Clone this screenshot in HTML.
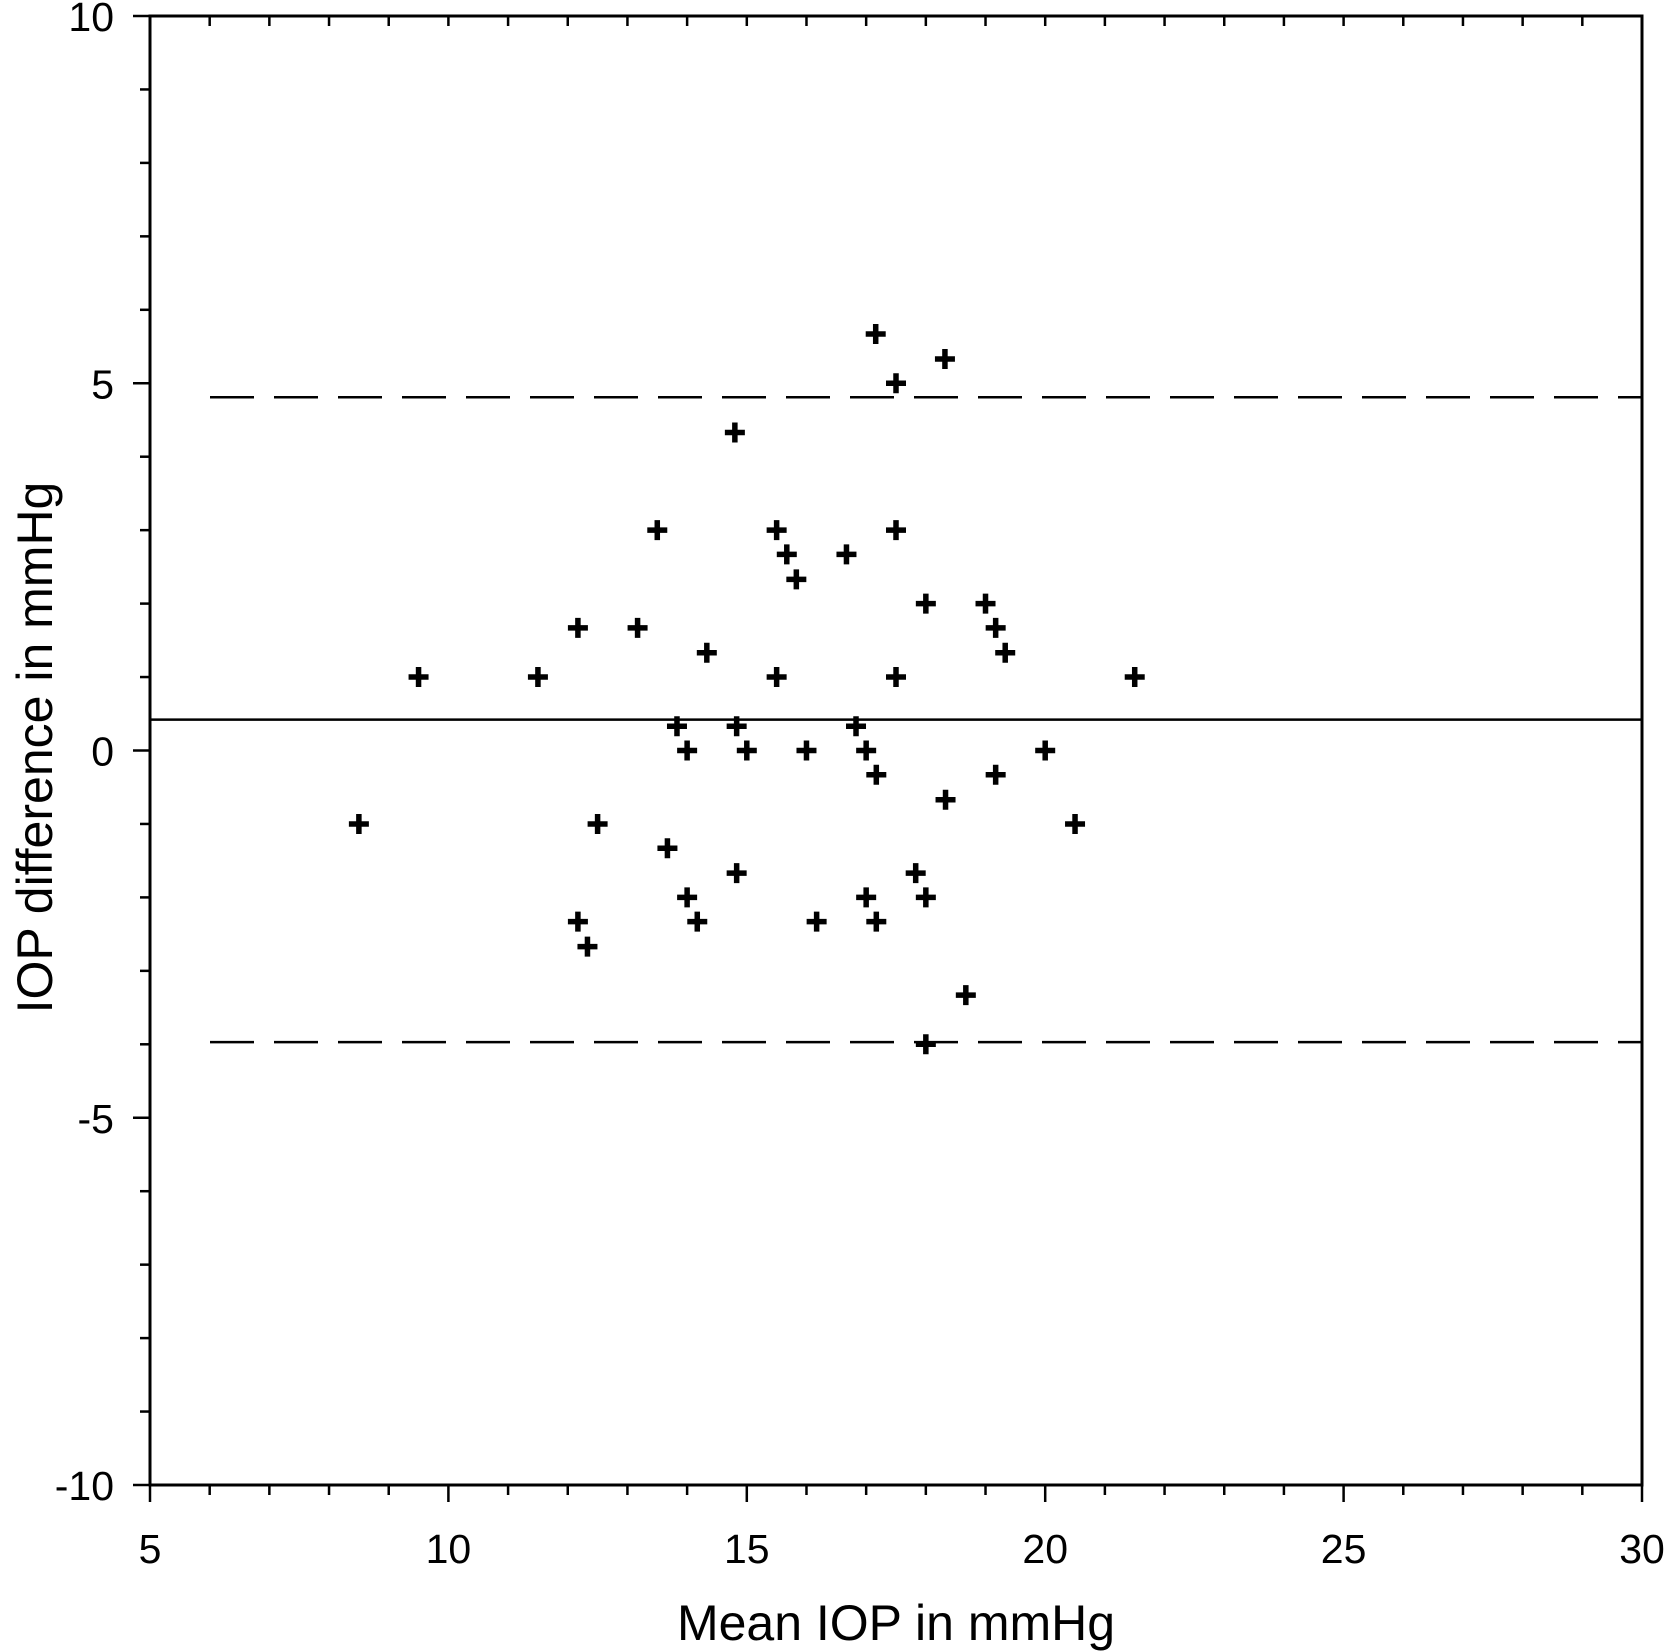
<!DOCTYPE html>
<html><head><meta charset="utf-8"><style>
html,body{margin:0;padding:0;background:#fff;}
svg{display:block;font-family:"Liberation Sans",Arial,sans-serif;}
</style></head><body>
<svg id="chart" width="1665" height="1652" viewBox="0 0 1665 1652" xmlns="http://www.w3.org/2000/svg"></svg>
<script>
const xTicks=[5,10,15,20,25,30];
const yTicks=[-10,-5,0,5,10];
const meanX=[17.16,18.32,17.5,14.8,13.5,15.5,17.5,15.67,16.67,15.83,18.0,19.0,19.17,19.33,12.17,13.17,14.33,9.5,11.5,15.5,17.5,21.5,13.83,14.83,16.83,14,15,16,17,20,17.17,19.17,18.33,8.5,12.5,20.5,13.67,14.83,17.83,14,17,18,12.17,14.17,16.17,17.17,12.33,18.67,18];
const diffY=[5.67,5.33,5.0,4.33,3.0,3.0,3.0,2.67,2.67,2.33,2.0,2.0,1.67,1.33,1.67,1.67,1.33,1.0,1.0,1.0,1.0,1.0,0.33,0.33,0.33,0,0,0,0,0,-0.33,-0.33,-0.67,-1,-1,-1,-1.33,-1.67,-1.67,-2,-2,-2,-2.33,-2.33,-2.33,-2.33,-2.67,-3.33,-4.0];
const meanDiff=[0.42];
const limits=[4.81,-3.97];

const L=150,R=1642,T=16,B=1485;
const sx=v=>L+(v-5)/25*(R-L);
const sy=v=>T+(10-v)/20*(B-T);
const svg=document.getElementById('chart');
const NS='http://www.w3.org/2000/svg';
function mk(tag,attrs,parent){const e=document.createElementNS(NS,tag);for(const k in attrs)e.setAttribute(k,attrs[k]);(parent||svg).appendChild(e);return e;}

const frame=mk('rect',{x:L,y:T,width:R-L,height:B-T,fill:'none',stroke:'#000','stroke-width':3});



for(let v=5;v<=30;v++){
  const major=v%5===0;
  const t=mk('line',{x1:sx(v),x2:sx(v),y1:B,y2:B+(major?17:10),stroke:'#000','stroke-width':2.5});
  
  
  if(v>5&&v<30){const t2=mk('line',{x1:sx(v),x2:sx(v),y1:T,y2:T+10,stroke:'#000','stroke-width':2.5});
  
  }
}
xTicks.forEach(v=>{
  const t=mk('text',{x:sx(v),y:B+78,'font-size':41,'text-anchor':'middle'});
  t.textContent=v;
  
  
});
for(let v=-10;v<=10;v++){
  const major=v%5===0;
  const t=mk('line',{x1:L-(major?17:10),x2:L,y1:sy(v),y2:sy(v),stroke:'#000','stroke-width':2.5});
  
  
}
yTicks.forEach(v=>{
  const t=mk('text',{x:L-36,y:sy(v)+15,'font-size':41,'text-anchor':'end'});
  t.textContent=v;
  
  
});
const xt=mk('text',{x:(L+R)/2,y:1640,'font-size':50,'text-anchor':'middle'});
xt.textContent='Mean IOP in mmHg';


const yt=mk('text',{x:0,y:0,'font-size':50,'text-anchor':'middle',transform:`translate(52,${(T+B)/2-3}) rotate(-90)`});
yt.textContent='IOP difference in mmHg';



const ml=mk('line',{x1:L,x2:R,y1:sy(meanDiff[0]),y2:sy(meanDiff[0]),stroke:'#000','stroke-width':2.5});


limits.forEach(v=>{
  const l=mk('line',{x1:L+60,x2:R,y1:sy(v),y2:sy(v),stroke:'#000','stroke-width':2.5,'stroke-dasharray':'44,20'});
  
  
});
meanX.forEach((x,i)=>{
  const cx=sx(x),cy=sy(diffY[i]);
  const p=mk('path',{d:`M${cx-10},${cy}H${cx+10}M${cx},${cy-10}V${cy+10}`,stroke:'#000','stroke-width':5.5,fill:'none'});
  
  
});
</script>
</body></html>
